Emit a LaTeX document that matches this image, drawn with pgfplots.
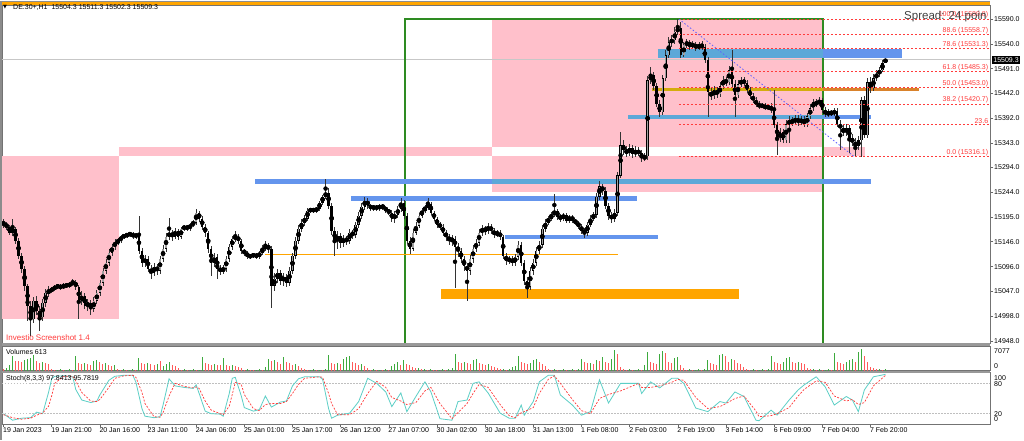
\documentclass[border=0pt]{standalone}
\usepackage{pgfplots}
\pgfplotsset{compat=1.18}
\usepackage{pgfplotstable}
\usepackage{fontspec}
\setmainfont{Liberation Sans}
\newfontfamily\dejavu{DejaVu Sans}
\newcommand\sm{\fontsize{7}{8.4}\selectfont}
\definecolor{pinkz}{HTML}{FFC0CB}
\definecolor{cfblue}{HTML}{6495ED}
\definecolor{stblue}{HTML}{5CA8D8}
\definecolor{orng}{HTML}{FFA500}
\definecolor{goldin}{HTML}{D4AC0D}
\definecolor{goldout}{HTML}{D9822B}
\definecolor{fgreen}{HTML}{2E8B22}
\definecolor{fibred}{HTML}{FF3B3B}
\definecolor{stochK}{HTML}{5CCFC6}
\definecolor{volg}{HTML}{3DAA3D}
\definecolor{volr}{HTML}{FF5A5A}
\definecolor{diag}{HTML}{6060FF}
\definecolor{bullg}{HTML}{A0A0A0}

\pgfplotstableread{
o h l c v f
15184 15192 15174 15180 640 0
15180 15186 15170 15176 970 1
15176 15180 15160 15164 1930 1
15164 15192 15158 15172 4830 1
15172 15176 15142 15148 3220 0
15148 15154 15112 15118 3250 0
15118 15124 15084 15092 2900 0
15092 15098 15048 15058 3540 1
15058 15062 14988 15018 3860 1
15018 15028 14958 14992 4190 1
14992 15036 14984 15028 5150 1
15028 15038 15000 15008 3220 0
15008 15018 14968 14996 2580 0
14996 15032 14988 15024 2900 1
15024 15052 15016 15044 2580 0
15044 15058 15036 15048 2250 0
15048 15056 15044 15052 640 0
15052 15060 15048 15056 320 0
15056 15062 15052 15058 350 1
15058 15062 15050 15054 640 1
15054 15064 15052 15060 320 0
15060 15064 15054 15058 330 1
15058 15066 15054 15062 640 1
15062 15072 15058 15066 320 0
15066 15070 15050 15056 4830 1
15056 15060 14992 15028 2580 0
15028 15048 15020 15038 2250 0
15038 15044 15012 15018 2600 1
15018 15032 15008 15024 2250 0
15024 15030 15000 15012 1930 0
15012 15036 15006 15028 3220 1
15028 15050 15022 15044 3540 1
15044 15070 15038 15064 2900 0
15064 15094 15058 15088 2250 0
15088 15112 15082 15104 2580 1
15104 15132 15098 15124 1930 0
15124 15142 15118 15136 1610 0
15136 15152 15130 15144 1930 1
15144 15154 15140 15148 640 0
15148 15160 15144 15156 320 0
15156 15162 15152 15158 640 1
15158 15164 15154 15160 320 0
15160 15166 15156 15162 330 1
15162 15166 15152 15156 640 1
15156 15164 15152 15160 320 0
15160 15198 15122 15128 4190 1
15128 15134 15096 15104 2580 0
15104 15120 15096 15112 2250 0
15112 15118 15086 15092 2580 1
15092 15100 15072 15084 2250 0
15084 15104 15078 15096 1930 0
15096 15102 15080 15088 2250 1
15088 15118 15082 15112 3220 0
15112 15140 15106 15132 1610 1
15132 15164 15126 15156 2250 1
15156 15194 15150 15164 2900 1
15164 15170 15148 15156 1930 0
15156 15174 15152 15168 1610 0
15168 15172 15150 15156 970 0
15156 15176 15152 15172 320 0
15172 15180 15168 15176 640 1
15176 15180 15168 15172 320 0
15172 15184 15168 15180 330 1
15180 15190 15176 15184 640 1
15184 15212 15180 15204 320 0
15204 15208 15186 15192 330 1
15192 15198 15170 15176 4510 1
15176 15182 15156 15164 2580 0
15164 15168 15124 15132 2250 0
15132 15138 15078 15104 1930 0
15104 15124 15096 15116 2250 1
15116 15122 15072 15092 1930 0
15092 15100 15080 15088 1930 0
15088 15100 15082 15092 4190 1
15092 15118 15086 15112 1930 0
15112 15142 15106 15136 1610 0
15136 15158 15130 15152 1930 1
15152 15168 15146 15156 1610 0
15156 15162 15142 15148 1290 0
15148 15152 15122 15128 970 0
15128 15132 15118 15124 320 0
15124 15128 15112 15116 640 1
15116 15122 15112 15118 320 0
15118 15124 15114 15120 320 0
15120 15124 15112 15116 330 1
15116 15128 15112 15124 640 1
15124 15140 15120 15132 320 0
15132 15148 15128 15138 1290 1
15138 15144 15124 15132 3860 1
15132 15138 15014 15058 3220 0
15058 15084 15048 15072 3540 1
15072 15092 15064 15084 2900 0
15084 15090 15060 15068 2250 0
15068 15084 15058 15076 4510 1
15076 15082 15056 15064 2900 0
15064 15096 15058 15088 2580 0
15088 15124 15082 15118 1930 0
15118 15156 15112 15148 2250 1
15148 15180 15142 15172 1610 0
15172 15192 15166 15184 970 0
15184 15200 15178 15192 640 0
15192 15214 15188 15208 320 0
15208 15214 15204 15210 330 1
15210 15214 15204 15208 640 1
15208 15216 15204 15212 320 0
15212 15228 15208 15224 330 1
15224 15240 15220 15236 320 0
15236 15272 15232 15244 640 1
15244 15252 15212 15218 5150 1
15218 15224 15160 15168 2580 0
15168 15176 15118 15148 2250 0
15148 15168 15132 15158 2580 1
15158 15164 15134 15144 2250 0
15144 15160 15136 15152 3860 1
15152 15158 15140 15148 4510 1
15148 15172 15142 15164 4830 1
15164 15170 15152 15160 2900 0
15160 15186 15154 15180 2580 0
15180 15206 15174 15198 1930 0
15198 15224 15192 15216 2250 1
15216 15236 15210 15228 1610 0
15228 15234 15212 15218 970 0
15218 15222 15208 15212 320 0
15212 15220 15208 15216 640 1
15216 15220 15208 15212 320 0
15212 15222 15208 15218 330 1
15218 15222 15210 15214 320 0
15214 15218 15204 15208 640 1
15208 15212 15200 15204 320 0
15204 15210 15186 15192 1610 1
15192 15208 15184 15200 2250 1
15200 15218 15194 15212 2900 1
15212 15234 15206 15224 1930 0
15224 15230 15192 15198 3540 1
15198 15204 15142 15148 2250 0
15148 15156 15122 15132 1930 0
15132 15172 15128 15164 1290 0
15164 15186 15160 15178 970 0
15178 15204 15174 15198 970 1
15198 15214 15194 15208 640 0
15208 15220 15204 15214 640 1
15214 15234 15210 15222 320 0
15222 15226 15200 15204 640 1
15204 15208 15188 15192 320 0
15192 15196 15174 15180 320 0
15180 15186 15170 15176 330 1
15176 15182 15158 15164 640 1
15164 15170 15148 15156 320 0
15156 15162 15140 15148 640 1
15148 15160 15138 15152 970 1
15152 15158 15054 15136 5470 1
15136 15144 15116 15128 2900 0
15128 15134 15104 15112 2580 0
15112 15118 15088 15098 2900 1
15098 15104 15028 15088 2580 0
15088 15120 15080 15112 2250 0
15112 15140 15104 15132 3540 1
15132 15152 15126 15144 3860 1
15144 15172 15138 15164 2580 0
15164 15180 15158 15172 2250 0
15172 15178 15160 15168 1930 0
15168 15184 15162 15176 2250 1
15176 15182 15162 15168 1610 0
15168 15174 15154 15160 1290 0
15160 15170 15156 15164 970 0
15164 15170 15150 15156 640 0
15156 15160 15112 15118 640 1
15118 15124 15100 15108 320 0
15108 15118 15102 15112 640 1
15112 15118 15098 15104 1290 1
15104 15122 15098 15116 1610 1
15116 15148 15110 15140 4830 1
15140 15146 15098 15104 2900 0
15104 15110 15060 15068 2580 0
15068 15076 15034 15056 2250 0
15056 15096 15050 15088 2580 1
15088 15112 15080 15104 3540 1
15104 15136 15098 15128 3860 1
15128 15148 15122 15140 2900 0
15140 15180 15134 15172 2250 0
15172 15192 15166 15184 1610 0
15184 15198 15180 15192 640 0
15192 15206 15188 15200 320 0
15200 15242 15196 15208 640 1
15208 15212 15190 15196 320 0
15196 15202 15186 15192 330 1
15192 15204 15188 15200 640 1
15200 15204 15184 15188 320 0
15188 15200 15184 15196 330 1
15196 15200 15184 15188 640 1
15188 15192 15180 15184 320 0
15184 15188 15172 15176 640 1
15176 15182 15162 15168 3860 1
15168 15174 15154 15164 2900 0
15164 15186 15158 15180 2580 0
15180 15200 15176 15192 2600 1
15192 15206 15188 15200 2250 0
15200 15244 15194 15236 3540 1
15236 15268 15230 15256 3220 0
15256 15262 15240 15248 4510 1
15248 15254 15212 15218 2900 0
15218 15224 15190 15198 2580 0
15198 15206 15184 15192 3860 1
15192 15212 15186 15204 6760 1
15204 15284 15198 15278 5470 0
15278 15364 15272 15338 1290 0
15338 15348 15318 15328 640 0
15328 15336 15314 15324 320 0
15324 15340 15316 15332 640 1
15332 15338 15312 15320 320 0
15320 15336 15314 15328 330 1
15328 15334 15316 15322 640 1
15322 15328 15304 15312 320 0
15312 15322 15306 15316 1930 1
15316 15476 15308 15468 6120 1
15468 15494 15460 15478 2900 0
15478 15484 15448 15456 2580 0
15456 15462 15414 15420 2250 0
15420 15428 15394 15404 5470 1
15404 15478 15398 15472 6440 1
15472 15528 15466 15518 5800 0
15518 15554 15512 15544 2900 0
15544 15558 15534 15548 2580 0
15548 15574 15540 15564 4190 1
15564 15590 15558 15572 4510 1
15572 15584 15512 15518 1930 0
15518 15544 15514 15538 970 0
15538 15550 15532 15544 320 0
15544 15548 15528 15536 640 1
15536 15546 15530 15540 320 0
15540 15544 15526 15532 330 1
15532 15544 15528 15538 640 1
15538 15546 15528 15534 320 0
15534 15540 15502 15508 640 1
15508 15514 15394 15444 3540 1
15444 15452 15428 15436 2580 0
15436 15456 15430 15448 2250 0
15448 15454 15432 15440 1930 0
15440 15464 15434 15456 5150 1
15456 15476 15450 15468 5470 1
15468 15474 15456 15464 4830 0
15464 15496 15458 15488 2900 0
15488 15528 15454 15460 3860 1
15460 15468 15394 15438 3540 0
15438 15468 15432 15460 2580 0
15460 15474 15454 15468 2250 0
15468 15474 15456 15462 1290 0
15462 15468 15442 15448 640 0
15448 15454 15430 15436 320 0
15436 15442 15422 15428 640 1
15428 15434 15414 15420 320 0
15420 15426 15410 15416 330 1
15416 15422 15412 15418 640 1
15418 15422 15408 15412 320 0
15412 15420 15408 15416 640 1
15416 15422 15402 15408 4830 1
15408 15448 15372 15378 2900 0
15378 15384 15318 15352 2580 0
15352 15372 15344 15364 2250 0
15364 15370 15342 15348 2900 1
15348 15388 15342 15380 4190 1
15380 15396 15342 15388 4510 1
15388 15394 15376 15384 2900 0
15384 15398 15378 15392 2580 0
15392 15398 15376 15384 2900 1
15384 15396 15378 15390 2580 0
15390 15396 15374 15380 2250 0
15380 15402 15374 15396 970 0
15396 15420 15390 15412 640 0
15412 15430 15406 15424 640 1
15424 15430 15414 15420 320 0
15420 15434 15416 15428 640 1
15428 15432 15402 15408 320 0
15408 15414 15394 15400 330 1
15400 15410 15394 15404 640 1
15404 15408 15396 15402 320 0
15402 15412 15396 15406 5800 1
15406 15412 15374 15380 2900 0
15380 15388 15328 15372 2580 0
15372 15378 15356 15364 2250 0
15364 15380 15356 15372 2900 1
15372 15378 15322 15352 3540 1
15352 15360 15336 15344 3860 1
15344 15352 15314 15336 2900 0
15336 15356 15328 15348 6120 1
15348 15434 15314 15428 7077 1
15428 15436 15352 15358 4830 0
15358 15472 15352 15464 2900 0
15464 15474 15442 15452 1290 0
15452 15480 15446 15472 970 0
15472 15488 15466 15480 640 0
15480 15494 15474 15488 640 1
15488 15508 15484 15502 320 0
15504.3 15511.3 15502.3 15509.3 613 1
}\candles

\pgfplotstableread{
i k d
0 20 18
3 7 12
6 11 9
9 12 11
11 23 17
13 20 21
15 63 35
16 89 55
17 94 80
20 95 94
23 93 94
24 68 85
26 47 62
29 42 45
31 45 44
32 57 48
35 86 72
37 94 90
40 96 95
43 96 96
44 82 92
46 30 62
47 15 40
50 12 14
52 14 13
53 37 22
55 89 55
57 75 80
60 72 74
63 70 71
64 77 73
65 60 70
67 25 45
69 20 27
72 19 20
73 15 18
75 60 35
76 90 58
77 92 82
79 55 78
80 32 58
83 25 30
85 28 26
87 55 38
89 33 40
92 43 40
94 45 44
96 75 60
98 89 78
100 93 90
105 93 93
106 88 92
108 30 60
109 11 40
111 17 18
115 21 18
118 44 30
121 90 60
124 80 84
127 63 72
129 34 52
132 61 45
134 24 38
137 54 42
140 83 65
142 63 72
145 10 40
149 7 10
151 44 22
154 47 40
156 80 60
158 83 78
161 61 72
165 21 38
168 11 16
170 11 12
172 37 22
173 17 24
176 44 32
178 83 60
181 96 88
183 96 95
185 57 80
189 37 48
192 17 26
195 24 20
198 87 50
201 41 58
205 80 65
211 80 80
212 60 72
215 83 72
218 71 75
222 90 82
224 90 88
226 80 86
230 31 52
234 24 30
238 44 34
240 41 40
243 63 50
246 54 55
250 7 25
251 6 14
255 27 16
257 17 20
261 47 32
264 67 55
266 77 68
270 93 85
273 73 82
276 37 55
280 54 45
282 47 48
284 24 38
286 67 42
289 93 75
293 97.8413 95.7819
}\stoch

\pgfplotsset{
  panel/.style={
    anchor=north west, scale only axis, width=988pt,
    xmin=-0.5, xmax=327.74,
    axis line style={draw=black!55, line width=0.8pt},
  },
}

\begin{document}
\begin{tikzpicture}
\useasboundingbox (0pt,0pt) rectangle (1024pt,-440pt);
\fill[white] (0pt,0pt) rectangle (1024pt,-440pt);

% ---------------- main price panel
\begin{axis}[panel,
  at={(2pt,-5pt)}, height=338pt,
  ymin=14943.9, ymax=15617.9,
  xtick=\empty,
  ytick={15590,15540,15491,15442,15392,15343,15294,15244,15195,15146,15096,15047,14998,14948},
  yticklabels={15590.0,15540.0,15491.0,15442.0,15392.0,15343.0,15294.0,15244.0,15195.0,15146.0,15096.0,15047.0,14998.0,14948.0},
  ytick pos=right, yticklabel pos=right, tick align=outside,
  major tick length=3pt, tick style={black!60, line width=0.5pt},
  yticklabel style={font=\sm, anchor=west, inner sep=0pt, xshift=1pt},
]
% pink zones
\addplot[fill=pinkz, draw=none, forget plot] coordinates {(-0.5,14991.8) (38.4,14991.8) (38.4,15316.1) (-0.5,15316.1)} --cycle;
\addplot[fill=pinkz, draw=none, forget plot] coordinates {(162.3,15245) (272.3,15245) (272.3,15590) (162.3,15590)} --cycle;
\addplot[fill=pinkz, draw=none, forget plot] coordinates {(38.4,15316.1) (162.3,15316.1) (162.3,15334.8) (38.4,15334.8)} --cycle;
\addplot[fill=white, draw=none, forget plot] coordinates {(162.3,15316.1) (272.3,15316.1) (272.3,15334.8) (162.3,15334.8)} --cycle;
\addplot[fill=pinkz, draw=none, forget plot] coordinates {(272.3,15316.1) (286.2,15316.1) (286.2,15334.8) (272.3,15334.8)} --cycle;
% bid line
\addplot[draw=black!22, line width=0.7pt, forget plot] coordinates {(-0.5,15509.3) (327.74,15509.3)};
% green box
\addplot[draw=fgreen, line width=1.6pt, forget plot] coordinates {(133.4,14900) (133.4,15590) (272.3,15590) (272.3,14900)};
% blue levels
\addplot[draw=cfblue, line width=5pt, forget plot] coordinates {(83.6,15266) (162.3,15266)};
\addplot[draw=stblue, line width=5pt, forget plot] coordinates {(162.3,15266) (272.3,15266)};
\addplot[draw=cfblue, line width=5pt, forget plot] coordinates {(272.3,15266) (288.2,15266)};
\addplot[draw=cfblue, line width=5pt, forget plot] coordinates {(115.4,15233) (210.5,15233)};
\addplot[draw=cfblue, line width=4pt, forget plot] coordinates {(166.6,15156) (217.4,15156)};
\addplot[draw=stblue, line width=4pt, forget plot] coordinates {(207.5,15394) (272.3,15394)};
\addplot[draw=cfblue, line width=4pt, forget plot] coordinates {(272.3,15394) (288.2,15394)};
\addplot[draw=stblue, line width=8.3pt, forget plot] coordinates {(217.4,15521) (272.3,15521)};
\addplot[draw=cfblue, line width=8.3pt, forget plot] coordinates {(272.3,15521) (298.5,15521)};
% orange levels
\addplot[draw=orng, line width=1.5pt, forget plot] coordinates {(86.9,15120) (204.2,15120)};
\addplot[fill=orng, draw=none, forget plot] coordinates {(145.3,15031) (244.3,15031) (244.3,15051.6) (145.3,15051.6)} --cycle;
\addplot[draw=goldin, line width=3pt, forget plot] coordinates {(215.4,15450) (272.3,15450)};
\addplot[draw=goldout, line width=3pt, forget plot] coordinates {(272.3,15450) (304.2,15450)};
% candles: wicks
\addplot[only marks, mark=none, forget plot, error bars/.cd, y dir=both, y explicit, error mark=none,
  error bar style={draw=black!80, line width=0.65pt, solid}]
  table[x expr=\coordindex, y expr={(\thisrow{h}+\thisrow{l})/2}, y error expr={(\thisrow{h}-\thisrow{l})/2}] {\candles};
% bodies
\addplot[only marks, mark=none, forget plot, error bars/.cd, y dir=both, y explicit, error mark=none,
  error bar style={draw=black, line width=2.4pt, solid}]
  table[x expr=\coordindex, y expr={(\thisrow{o}+\thisrow{c})/2}, y error expr={max(abs(\thisrow{c}-\thisrow{o})/2,0.6)}] {\candles};
\addplot[only marks, mark=none, forget plot, error bars/.cd, y dir=both, y explicit, error mark=none,
  error bar style={draw=bullg, line width=1.5pt, solid}]
  table[x expr=\coordindex, y expr={(\thisrow{o}+\thisrow{c})/2}, y error expr={max(\thisrow{c}-\thisrow{o}-1.6,0)/2}] {\candles};
% fibonacci
\pgfplotsinvokeforeach{15589.8,15558.7,15531.3,15485.3,15453.0,15420.7,15380.7,15316.1}{
  \addplot[draw=fibred, line width=0.7pt, dash pattern=on 2pt off 2pt, forget plot] coordinates {(224.4,#1) (327.74,#1)};
}
\addplot[draw=diag, line width=0.8pt, dash pattern=on 1.5pt off 2pt, forget plot] coordinates {(224.4,15589.8) (282.5,15316.1)};
\end{axis}

% ---------------- volume panel
\begin{axis}[panel,
  at={(2pt,-346pt)}, height=24.7pt,
  ymin=0, ymax=8050,
  xtick=\empty, ytick=\empty,
]
\addplot[ycomb, draw=volg, line width=1pt, mark=none] table[x expr=\coordindex, y expr={\thisrow{v}*\thisrow{f}}] {\candles};
\addplot[ycomb, draw=volr, line width=1pt, mark=none] table[x expr=\coordindex, y expr={\thisrow{v}*(1-\thisrow{f})}] {\candles};
\end{axis}

% ---------------- stochastic panel
\begin{axis}[panel,
  at={(2pt,-372.5pt)}, height=51.5pt,
  ymin=-0.5, ymax=101.5,
  ytick=\empty,
  xtick={0,16,32,48,64,80,96,112,128,144,160,176,192,208,224,240,256,272,288},
  xticklabels={19 Jan 2023,19 Jan 21:00,20 Jan 16:00,23 Jan 11:00,24 Jan 06:00,25 Jan 01:00,25 Jan 17:00,26 Jan 12:00,27 Jan 07:00,30 Jan 02:00,30 Jan 18:00,31 Jan 13:00,1 Feb 08:00,2 Feb 03:00,2 Feb 19:00,3 Feb 14:00,6 Feb 09:00,7 Feb 04:00,7 Feb 20:00},
  xtick pos=bottom, tick align=outside, major tick length=3pt,
  tick style={black!60, line width=0.5pt},
  xticklabel style={font=\sm, anchor=north west, inner sep=0pt, xshift=-0.5pt, yshift=-0.5pt},
]
\addplot[draw=black!25, line width=0.8pt, dash pattern=on 1.5pt off 1.5pt, forget plot] coordinates {(-0.5,80) (327.74,80)};
\addplot[draw=black!25, line width=0.8pt, dash pattern=on 1.5pt off 1.5pt, forget plot] coordinates {(-0.5,20) (327.74,20)};
\addplot[draw=stochK, line width=0.8pt, mark=none] table[x=i, y=k] {\stoch};
\addplot[draw=fibred, line width=0.7pt, dash pattern=on 2pt off 1.5pt, mark=none] table[x=i, y=d] {\stoch};
\end{axis}

% separators and frame bits
\fill[black!40] (0pt,-343pt) rectangle (990pt,-346pt);
\fill[black!40] (0pt,-370.7pt) rectangle (990pt,-372.5pt);
\fill[orng] (0pt,-1.3pt) rectangle (990pt,-4.6pt);
\draw[black!45, line width=0.6pt] (0pt,-0.9pt) -- (990pt,-0.9pt);
\fill[black!45] (0pt,-1pt) rectangle (2pt,-440pt);

% fib labels
\begin{scope}[every node/.style={font=\sm, text=fibred, anchor=south east, inner sep=0.6pt}]
\node at (989pt,-19.1pt) {100.0 (15589.8)};
\node at (989pt,-34.7pt) {88.6 (15558.7)};
\node at (989pt,-48.4pt) {78.6 (15531.3)};
\node at (989pt,-71.5pt) {61.8 (15485.3)};
\node at (989pt,-87.7pt) {50.0 (15453.0)};
\node at (989pt,-103.9pt) {38.2 (15420.7)};
\node at (989pt,-124.0pt) {23.6};
\node at (989pt,-156.4pt) {0.0 (15316.1)};
\end{scope}

% texts
\node[anchor=west, font=\fontsize{11.5}{13}\selectfont, text=black!75, inner sep=0pt] at (904pt,-16.5pt) {Spread: 24 poin};
\node[anchor=west, inner sep=0pt, font=\fontsize{5}{6}\dejavu] at (3pt,-7.3pt) {▼};
\node[anchor=west, inner sep=0pt, font=\sm] at (13pt,-7.3pt) {DE.30+,H1\ \ 15504.3 15511.3 15502.3 15509.3};
\node[anchor=west, inner sep=0pt, font=\fontsize{8}{9}\selectfont, text=fibred] at (6pt,-337.5pt) {Investio Screenshot 1.4};
\node[anchor=west, inner sep=0pt, font=\sm] at (6pt,-352pt) {Volumes 613};
\node[anchor=west, inner sep=0pt, font=\sm] at (6pt,-378.5pt) {Stoch(8,3,3) 97.8413 95.7819};

% right side labels for sub-panels
\begin{scope}[every node/.style={font=\sm, anchor=west, inner sep=0pt}]
\node at (994pt,-351pt) {7077};
\node at (994pt,-366pt) {0};
\node at (994pt,-377.7pt) {100};
\node at (994pt,-383.6pt) {80};
\node at (994pt,-413.6pt) {20};
\node at (994pt,-419.5pt) {0};
\end{scope}
\node[fill=black, text=white, font=\sm, anchor=west, inner sep=1.2pt] at (992pt,-60pt) {15509.3};
\end{tikzpicture}
\end{document}
